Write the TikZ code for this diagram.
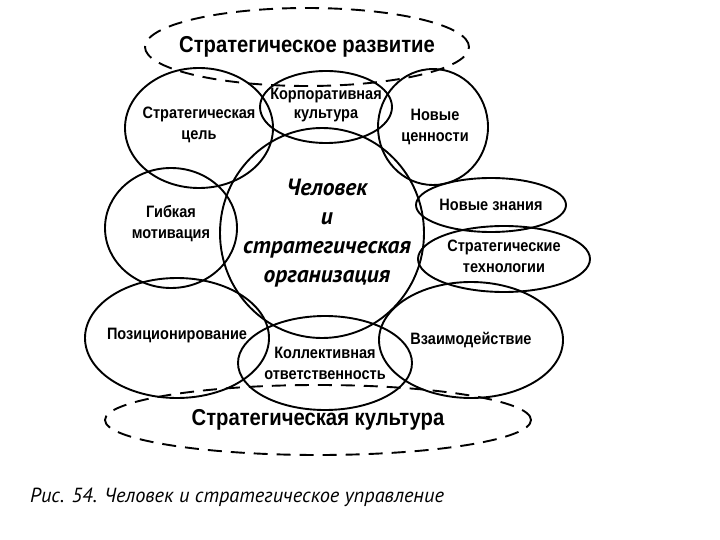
\documentclass[tikz,border=0pt]{standalone}
\usepackage{fontspec}
\setmainfont{Liberation Sans}[FakeStretch=0.88]
\newfontfamily\corefont{PT Sans}
\usetikzlibrary{shapes.geometric}
\tikzset{
  ring/.style={draw,ellipse,line width=1.9pt,inner sep=0pt},
  dashring/.style={ring,dash pattern=on 14pt off 9pt},
  lbl/.style={align=center,inner sep=0pt,font=\fontsize{16.5}{21}\selectfont\bfseries},
  biglbl/.style={inner sep=0pt,font=\fontsize{23}{27}\selectfont\bfseries},
  corelbl/.style={align=center,inner sep=0pt,font=\corefont\fontsize{23.5}{29}\selectfont\bfseries\itshape},
  caplbl/.style={anchor=west,inner sep=0pt,font=\corefont\fontsize{20.4}{24}\selectfont\itshape},
}
\begin{document}
\begin{tikzpicture}[x=1pt,y=-1pt]
\useasboundingbox (0,0) rectangle (720,540);
\node[dashring,minimum width=324,minimum height=78] (dev) at (307,47) {};
\node[ring,minimum width=148,minimum height=120] (goal) at (199,128) {};
\node[ring,minimum width=132,minimum height=72] (corp) at (326,107) {};
\node[ring,minimum width=110,minimum height=116] (val) at (433,127) {};
\node[ring,minimum width=204,minimum height=210] (core) at (322,233) {};
\node[ring,minimum width=132,minimum height=120] (mot) at (171,228) {};
\node[ring,minimum width=150,minimum height=54] (know) at (491,205) {};
\node[ring,minimum width=172,minimum height=66] (tech) at (504,259) {};
\node[ring,minimum width=184,minimum height=120] (pos) at (177,338) {};
\node[ring,minimum width=174,minimum height=94] (resp) at (325,363) {};
\node[ring,minimum width=184,minimum height=116] (inter) at (471,340) {};
\node[dashring,minimum width=426,minimum height=70] (cult) at (318,420) {};

\node[biglbl] at (dev) {Стратегическое развитие};
\node[lbl,yshift=3] at (goal) {Стратегическая\\цель};
\node[lbl,yshift=2] at (corp) {Корпоративная\\[-2pt]культура};
\node[lbl,xshift=2] at (val) {Новые\\ценности};
\node[lbl,yshift=4] at (mot) {Гибкая\\мотивация};
\node[corelbl,xshift=5] at (core) {Человек\\и\\стратегическая\\организация};
\node[lbl] at (know) {Новые знания};
\node[lbl,yshift=3] at (tech) {Стратегические\\технологии};
\node[lbl,yshift=2] at (pos) {Позиционирование};
\node[lbl] at (resp) {Коллективная\\ответственность};
\node[lbl] at (inter) {Взаимодействие};
\node[biglbl] at (cult) {Стратегическая культура};
\node[caplbl] (fig) at (30,497) {Рис. 54. Человек и стратегическое управление};
\end{tikzpicture}
\end{document}
